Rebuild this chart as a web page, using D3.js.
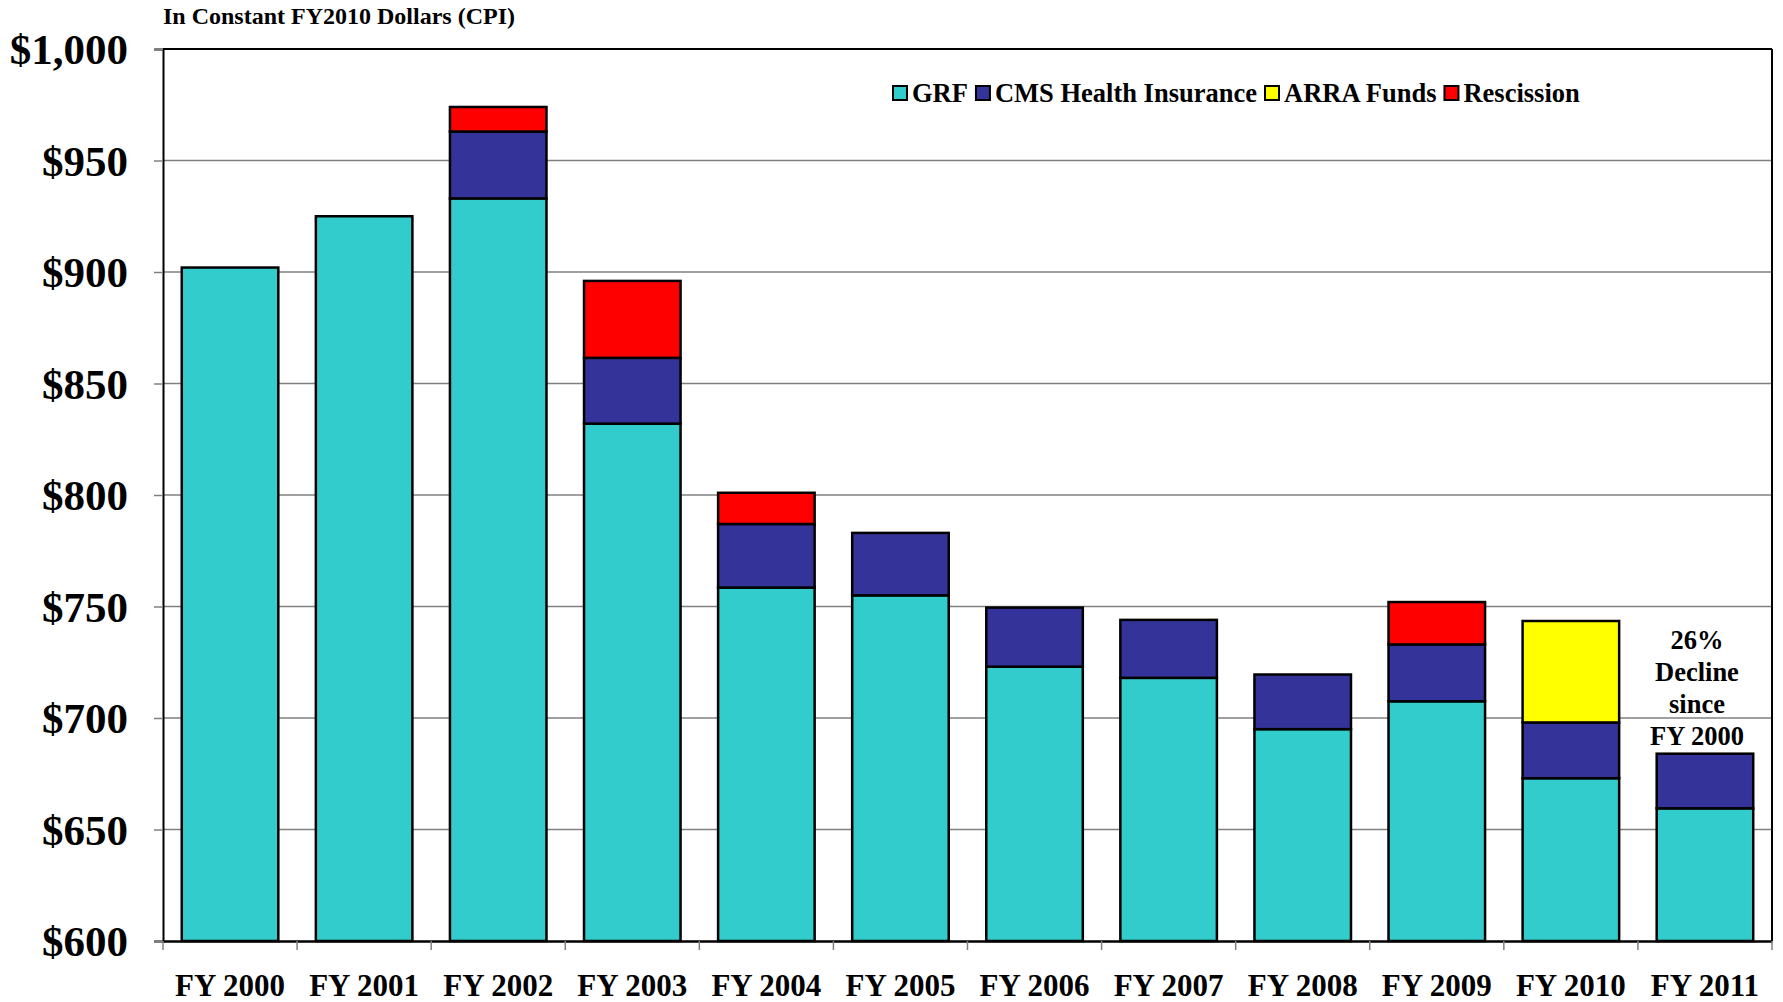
<!DOCTYPE html>
<html>
<head>
<meta charset="utf-8">
<script src="https://cdn.jsdelivr.net/npm/d3@7"></script>
<style>
  body { margin: 0; background: #fff; }
  svg text { font-family: "Liberation Serif", "Times New Roman", serif; font-weight: bold; }
</style>
</head>
<body>
<div id="chart"></div>
<script>
// data
var years = ["FY 2000", "FY 2001", "FY 2002", "FY 2003", "FY 2004", "FY 2005",
             "FY 2006", "FY 2007", "FY 2008", "FY 2009", "FY 2010", "FY 2011"];
var grf        = [902, 925, 933, 832, 758.5, 755, 723, 718, 695, 707.5, 673, 659.5];
var cms        = [0, 0, 30, 29.5, 28.5, 28, 26.5, 26, 24.5, 25.5, 25, 24.5];
var arra       = [0, 0, 0, 0, 0, 0, 0, 0, 0, 0, 45.5, 0];
var rescission = [0, 0, 11, 34.5, 14, 0, 0, 0, 0, 19, 0, 0];
var seriesNames = ["GRF", "CMS Health Insurance", "ARRA Funds", "Rescission"];
var colors = ["#33CCCC", "#333399", "#FFFF00", "#FF0000"];
var yTicks = [600, 650, 700, 750, 800, 850, 900, 950, 1000];

var width = 1783, height = 1002;
var margin = {top: 49, right: 11, bottom: 61, left: 163};

var svg = d3.select("#chart").append("svg")
            .attr("width", width)
            .attr("height", height);

var x = d3.scaleBand()
          .domain(years)
          .range([margin.left, width - margin.right])
          .paddingInner(0.28)
          .paddingOuter(0.14);

var y = d3.scaleLinear()
          .domain([600, 1000])
          .range([height - margin.bottom, margin.top]);

// table for the stack
var rows = years.map(function(d, i) {
    return {year: d, "GRF": grf[i], "CMS Health Insurance": cms[i],
            "ARRA Funds": arra[i], "Rescission": rescission[i]};
});
var stacked = d3.stack().keys(seriesNames)(rows);

// gridlines
svg.append("g")
   .selectAll("line")
   .data(yTicks.slice(1))
   .enter()
   .append("line")
   .attr("x1", margin.left)
   .attr("x2", width - margin.right)
   .attr("y1", function(d){ return y(d); })
   .attr("y2", function(d){ return y(d); })
   .attr("stroke", "#808080")
   .attr("stroke-width", 1.5);

// bars (axis starts at $600, so the base is cut there)
var base = y.domain()[0];
var groups = svg.append("g")
   .selectAll("g")
   .data(stacked)
   .enter()
   .append("g")
   .attr("fill", function(d, i){ return colors[i]; });

groups.selectAll("rect")
   .data(function(d){ return d.filter(function(p){ return p[1] - p[0] > 0; }); })
   .enter()
   .append("rect")
   .attr("x", function(d){ return x(d.data.year); })
   .attr("width", x.bandwidth())
   .attr("y", function(d){ return y(d[1]); })
   .attr("height", function(d){ return y(Math.max(d[0], base)) - y(d[1]); })
   .attr("stroke", "#000")
   .attr("stroke-width", 2.5);

// frame top and right
svg.append("line")
   .attr("x1", margin.left).attr("x2", width - margin.right)
   .attr("y1", margin.top).attr("y2", margin.top)
   .attr("stroke", "#000").attr("stroke-width", 2);
svg.append("line")
   .attr("x1", width - margin.right).attr("x2", width - margin.right)
   .attr("y1", margin.top).attr("y2", height - margin.bottom)
   .attr("stroke", "#000").attr("stroke-width", 2);

// y axis
var yAxis = svg.append("g")
   .attr("transform", "translate(" + margin.left + ",0)")
   .call(d3.axisLeft(y).tickValues(yTicks).tickSize(9).tickPadding(26)
           .tickFormat(function(d){ return "$" + d3.format(",")(d); }));
yAxis.select(".domain").attr("stroke", "#000").attr("stroke-width", 2);
yAxis.selectAll(".tick line").attr("stroke", "#808080").attr("stroke-width", 1.5);
yAxis.selectAll("text")
   .attr("fill", "#000")
   .style("font-size", "43px")
   .attr("dy", "0.34em");

// x axis with ticks at category boundaries
var xAxis = svg.append("g")
   .attr("transform", "translate(0," + (height - margin.bottom) + ")")
   .call(d3.axisBottom(x).tickSize(0).tickPadding(33));
xAxis.select(".domain").attr("stroke", "#000").attr("stroke-width", 2.5);
xAxis.selectAll("text")
   .attr("fill", "#000")
   .style("font-size", "31px");

var step = x.step();
var bounds = d3.range(years.length + 1).map(function(i){
    return x(years[0]) - x.paddingOuter() * step + i * step;
});
svg.append("g")
   .selectAll("line")
   .data(bounds)
   .enter()
   .append("line")
   .attr("x1", function(d){ return d; })
   .attr("x2", function(d){ return d; })
   .attr("y1", height - margin.bottom)
   .attr("y2", height - margin.bottom + 9)
   .attr("stroke", "#808080")
   .attr("stroke-width", 1.5);

// subtitle
svg.append("text")
   .attr("x", 163)
   .attr("y", 24)
   .style("font-size", "24px")
   .text("In Constant FY2010 Dollars (CPI)");

// legend
var legend = svg.append("g").attr("transform", "translate(893,93)");
var lx = 0;
seriesNames.forEach(function(name, i) {
    legend.append("rect")
          .attr("x", lx).attr("y", -7)
          .attr("width", 14).attr("height", 14)
          .attr("fill", colors[i])
          .attr("stroke", "#000").attr("stroke-width", 2);
    var t = legend.append("text")
          .attr("x", lx + 19).attr("y", 9)
          .style("font-size", "26.5px")
          .text(name);
    lx += 19 + t.node().getComputedTextLength() + 8;
});

// note above FY 2011
var note = ["26%", "Decline", "since", "FY 2000"];
var last = years[years.length - 1];
svg.append("g")
   .selectAll("text")
   .data(note)
   .enter()
   .append("text")
   .attr("x", x(last) + x.bandwidth() / 2 - 8)
   .attr("y", function(d, i){ return 649 + i * 32; })
   .attr("text-anchor", "middle")
   .style("font-size", "26.5px")
   .text(function(d){ return d; });
</script>
</body>
</html>
